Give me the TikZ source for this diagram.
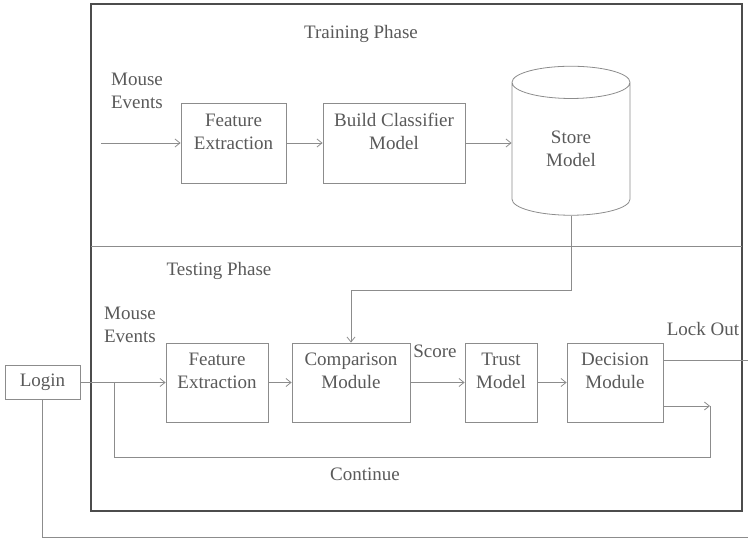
\documentclass[tikz,border=0pt]{standalone}
\usepackage{fontspec}
\setmainfont{Liberation Serif}
\usepackage{xcolor}
\usepackage{tikz}
\usetikzlibrary{arrows.meta,shapes.geometric}
\definecolor{linegray}{gray}{0.55}
\definecolor{framegray}{gray}{0.3}
\definecolor{inkgray}{gray}{0.35}
\begin{document}
\begin{tikzpicture}[x=1pt,y=-1pt,
  font=\fontsize{19}{23}\selectfont, text=inkgray,
  box/.style={draw=linegray, line width=0.8pt, align=center, inner sep=0pt},
  store/.style={draw=linegray, line width=0.8pt, cylinder, shape border rotate=90,
    aspect=0.65, align=center, minimum width=118pt, minimum height=149pt, inner sep=0pt},
  flow/.style={draw=linegray, line width=0.8pt, -{Straight Barb[length=5pt,width=8pt]}},
  wire/.style={draw=linegray, line width=0.8pt},
  lbl/.style={inner sep=0pt, align=left}]
\useasboundingbox (0,0) rectangle (748,540);

\draw[line width=2pt, framegray] (91,4.5) rectangle (742,511);
\draw[wire] (91,246) -- (742,246);

\node[lbl] (train) at (361,34) {Training Phase};
\node[lbl] (test) at (219,271) {Testing Phase};

% training phase
\node[lbl] (mouse1) at (137,91) {Mouse\\Events};
\node[box, minimum width=105pt, minimum height=80pt] (fe1) at (233.5,143) {Feature\\Extraction\\\mbox{}};
\node[box, minimum width=142pt, minimum height=80pt] (bc1) at (394,143) {Build Classifier\\Model\\\mbox{}};
\node[store] (sm) at (571,149) {Store\\Model};
\coordinate (in1) at (101,143);
\draw[flow] (in1) -- (fe1);
\draw[flow] (fe1) -- (bc1);
\draw[flow] (bc1) -- (bc1 -| sm.west);

% testing phase
\node[box, minimum width=75pt, minimum height=34pt] (login) at (42.5,382.5) {Login};
\node[lbl] (mouse2) at (130,325) {Mouse\\Events};
\node[box, minimum width=102pt, minimum height=79pt] (fe2) at (217,382.5) {Feature\\Extraction\\\mbox{}};
\node[box, minimum width=118pt, minimum height=79pt] (cm) at (351,382.5) {Comparison\\Module\\\mbox{}};
\node[box, minimum width=72pt, minimum height=79pt] (tm) at (501,382.5) {Trust\\Model\\\mbox{}};
\node[box, minimum width=96pt, minimum height=79pt] (dm) at (615,382.5) {Decision\\Module\\\mbox{}};
\node[lbl] (score) at (435,351) {Score};
\node[lbl] (lock) at (703,329) {Lock Out};
\node[lbl] (cont) at (365,474) {Continue};

\coordinate (turn) at (0,290);
\coordinate (split) at (114,382.5);
\coordinate (back) at (710,406);
\coordinate (low) at (710,457);
\coordinate (lockend) at (748,360);
\coordinate (exitend) at (748,537);

\draw[flow] (sm.south) |- (turn -| cm.north) -- (cm.north);
\draw[flow] (login) -- (fe2);
\draw[flow] (fe2) -- (cm);
\draw[flow] (cm) -- (tm);
\draw[flow] (tm) -- (dm);
\draw[wire] (dm.east |- lockend) -- (lockend);
\draw[flow] (dm.east |- back) -- (back);
\draw[wire] (back) -- (low) -| (split);
\draw[wire] (login.south) |- (exitend);
\end{tikzpicture}
\end{document}
